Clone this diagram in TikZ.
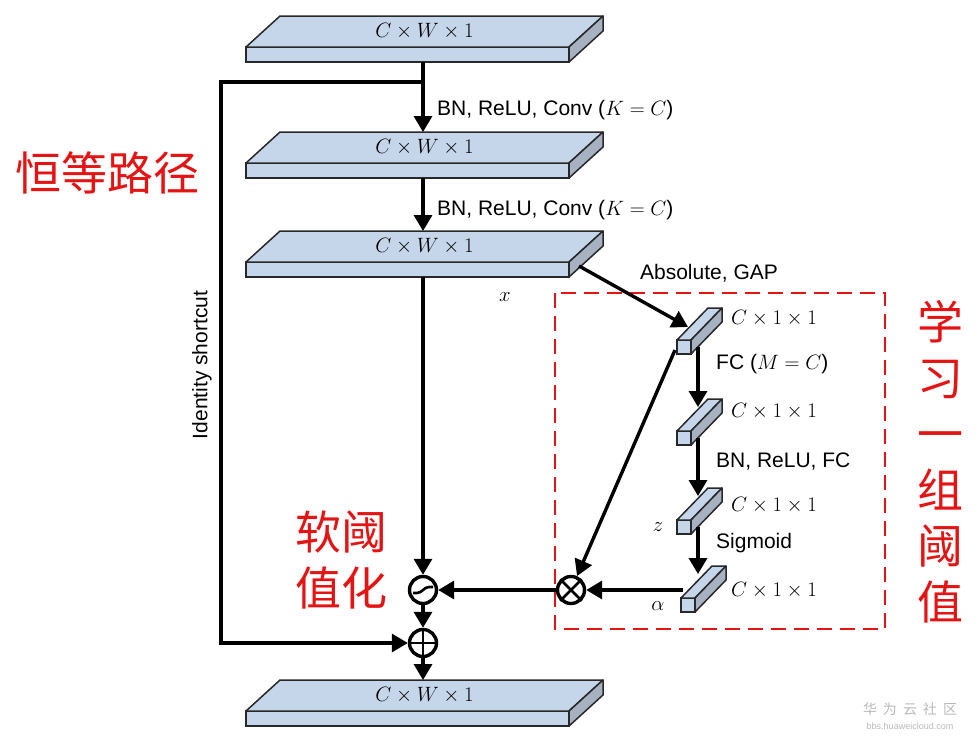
\documentclass[tikz,border=0pt]{standalone}
\usepackage{fontspec}
\setmainfont{Liberation Sans}
\newfontfamily\cjk{Noto Sans CJK SC}
\usetikzlibrary{positioning}
\usetikzlibrary{arrows.meta}
\usepackage{xcolor}
\definecolor{slabblue}{RGB}{197,214,235}
\definecolor{slabside}{RGB}{166,178,193}
\definecolor{edgegray}{RGB}{40,40,40}
\definecolor{markred}{RGB}{228,20,20}

% wide feature map: front face node + top and side faces
\newcommand{\slabbox}[2]{%
  \node[slab] (#1) at (407.5,#2) {};
  \draw[face] (#1.north west) -- ++(34,-31) -- ++(323,0) -- (#1.north east) -- cycle;
  \draw[sideface] (#1.north east) -- ++(34,-31) -- ++(0,15) -- (#1.south east) -- cycle;
  \node[dimlbl] (#1-lab) at (424.5,#2-23) {$C\times W\times 1$};
}
% thin C x 1 x 1 bar (name, x, y, label y)
\newcommand{\barbox}[4]{%
  \node[barfront] (#1) at (#2,#3) {};
  \draw[face] (#1.north west) -- ++(31,-32) -- ++(14,0) -- (#1.north east) -- cycle;
  \draw[sideface] (#1.north east) -- ++(31,-32) -- ++(0,14) -- (#1.south east) -- cycle;
  \node[dimlbl, anchor=west] (#1-lab) at (731,#4) {$C\times 1\times 1$};
}

\begin{document}
\begin{tikzpicture}[
    x=1pt, y=-1pt,
    slab/.style={rectangle, draw=edgegray, line width=1.5pt, fill=slabblue, minimum width=323pt, minimum height=15pt, inner sep=0pt, outer sep=0pt},
    barfront/.style={rectangle, draw=edgegray, line width=1.5pt, fill=slabblue, minimum size=14pt, inner sep=0pt, outer sep=0pt},
    face/.style={draw=edgegray, line width=1.5pt, fill=slabblue, line join=round},
    sideface/.style={draw=edgegray, line width=1.5pt, fill=slabside, line join=round},
    dimlbl/.style={font=\fontsize{22}{24}\selectfont, inner sep=0pt},
    txt/.style={font=\fontsize{21}{24}\selectfont, inner sep=0pt},
    cn/.style={font=\cjk\fontsize{46}{56}\selectfont, text=markred, inner sep=0pt, align=center},
    arr/.style={line width=3.4pt, -{Triangle[length=16pt,width=18pt]}},
    opnode/.style={circle, draw, line width=3.4pt, minimum size=27pt, inner sep=0pt},
    redbox/.style={draw=markred, line width=2pt, dash pattern=on 15pt off 8pt}
]
\useasboundingbox (0,0) rectangle (978,740);

% feature maps
\slabbox{s1}{54.5}
\slabbox{s2}{170.5}
\slabbox{s3}{269.5}
\slabbox{s4}{718.5}

% threshold branch
\draw[redbox] (555,293) rectangle (885,629);
\barbox{b1}{684}{347}{318}
\barbox{b2}{684}{438}{411}
\barbox{b3}{684}{527}{505}
\barbox{b4}{688}{605}{590}

% operators
\node[opnode] (sg) at (423,590) {};
\draw[line width=2.6pt] ([shift={(-10pt,-3pt)}]sg.center) -- ++(4pt,0pt)
  .. controls +(5pt,0pt) and +(-5pt,0pt) .. ++(12pt,6pt) -- ++(4pt,0pt);
\node[opnode] (ot) at (571,590) {};
\draw[line width=2.6pt] (ot.45) -- (ot.225) (ot.135) -- (ot.315);
\node[opnode] (op) at (423,643) {};
\draw[line width=2.6pt] (op.north) -- (op.south) (op.west) -- (op.east);

% points on the main path
\coordinate (s1out) at (423,62);
\coordinate (s2in) at (423,132);
\coordinate (s2out) at (423,178);
\coordinate (s3in) at (423,231);
\coordinate (s3out) at (423,277);
\coordinate (s4in) at (423,680);
\coordinate (br) at (423,82);

% main path
\draw[arr] (s1out) -- (s2in);
\draw[arr] (s2out) -- (s3in);
\draw[arr] (s3out) -- (sg);
\draw[arr] (sg) -- (op);
\draw[arr] (op) -- (s4in);
% identity shortcut
\draw[arr] (br) -- ++(-202,0) |- (op);

% threshold branch connectors
\draw[arr] ([shift={(10pt,-4pt)}]s3.north east) -- ([shift={(4pt,13pt)}]b1.north);
\draw[arr] ([shift={(7pt,7pt)}]b1.south east) -- ([shift={(7pt,24pt)}]b2.north east);
\draw[arr] ([shift={(7pt,7pt)}]b2.south east) -- ([shift={(7pt,24pt)}]b3.north east);
\draw[arr] ([shift={(7pt,7pt)}]b3.south east) -- ([shift={(3pt,24pt)}]b4.north east);
\draw[arr] ([shift={(-2pt,4pt)}]b1.south west) -- (ot);
\draw[arr] ([shift={(2pt,8pt)}]b4.north west) -- (ot);
\draw[arr] (ot) -- (sg);

% labels
\node[txt, anchor=west] (l1) at (437,110) {BN, ReLU, Conv ($K=C$)};
\node[txt, anchor=west] (l2) at (437,210) {BN, ReLU, Conv ($K=C$)};
\node[txt] (l3) at (709,273) {Absolute, GAP};
\node[txt, anchor=west] (l4) at (716,364) {FC ($M=C$)};
\node[txt, anchor=west] (l5) at (716,462) {BN, ReLU, FC};
\node[txt, anchor=west] (l6) at (716,543) {Sigmoid};
\node[dimlbl] (lx) at (505,297) {$x$};
\node[dimlbl] (lz) at (658,527) {$z$};
\node[dimlbl] (la) at (658,606) {$\alpha$};
\node[txt, rotate=90] (lid) at (202,365) {Identity shortcut};

% chinese captions
\node[cn] (cn1) at (108,173) {恒等路径};
\node[cn] (cn2) at (341,560) {软阈\\值化};
\node[cn, text width=48pt] (cn3) at (940,462) {学\\习\\一\\组\\阈\\值};

% watermark
\node[font=\cjk\fontsize{14}{14}\selectfont, text=gray!55, inner sep=0pt] (wm1) at (910,709) {华\hspace{6pt}为\hspace{6pt}云\hspace{6pt}社\hspace{6pt}区};
\node[font=\fontsize{9}{10}\selectfont, text=gray!55, inner sep=0pt] (wm2) at (910,726) {bbs.huaweicloud.com};
\end{tikzpicture}
\end{document}
